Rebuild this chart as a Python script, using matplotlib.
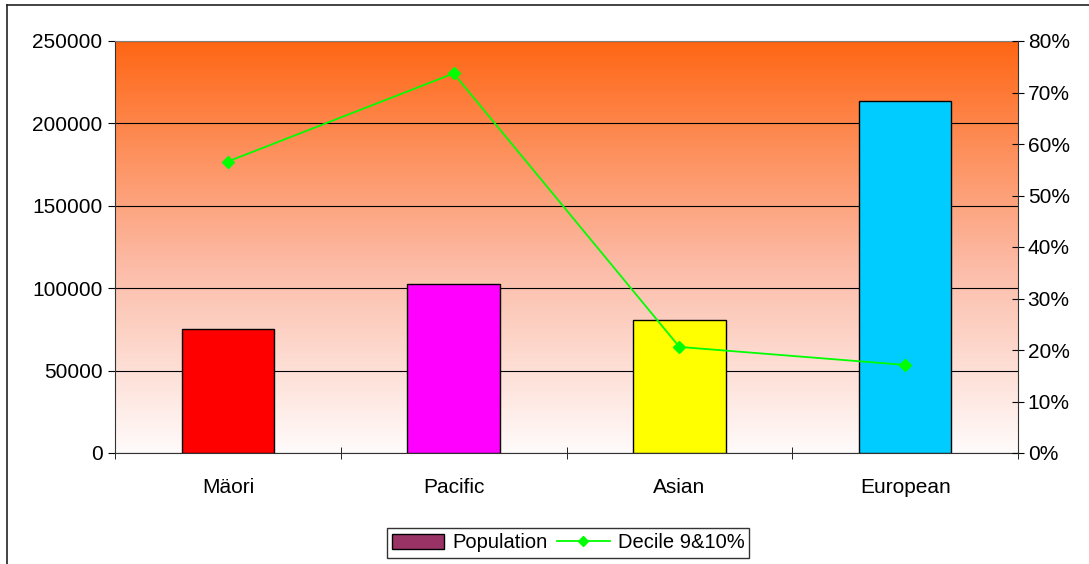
import numpy as np
import matplotlib.pyplot as plt
from matplotlib.lines import Line2D
from matplotlib.patches import Patch
from matplotlib.colors import LinearSegmentedColormap
from matplotlib.ticker import PercentFormatter

plt.rcParams['font.family'] = ['Liberation Sans', 'DejaVu Sans']
plt.rcParams['font.size'] = 15

groups = ['Mäori', 'Pacific', 'Asian', 'European']
population = [75400, 102700, 80700, 213600]
decile_9_10 = [56.6, 73.7, 20.6, 17.1]
bar_colors = ['#FF0000', '#FF00FF', '#FFFF00', '#00CCFF']

fig = plt.figure(figsize=(10.89, 5.64), dpi=100)
ax = fig.add_axes([115/1089, 1-453/564, 903/1089, 412/564])

# gradient background (orange top -> near white bottom)
grad = LinearSegmentedColormap.from_list('bg', [(0, '#FFFBFB'), (0.45, '#FCBCA8'), (1, '#FF6614')])
ax.imshow(np.linspace(0, 1, 256).reshape(-1, 1), cmap=grad, aspect='auto',
          extent=[-0.5, 3.5, 0, 250000], origin='lower', zorder=0)

x = np.arange(len(groups))
ax.bar(x, population, width=0.41, color=bar_colors, edgecolor='black', linewidth=1, zorder=3)
ax.set_xlim(-0.5, 3.5)
ax.set_ylim(0, 250000)
ax.set_yticks(range(0, 250001, 50000))
ax.yaxis.grid(True, color='black', linewidth=0.8, zorder=1)
ax.set_axisbelow(True)
ax.set_xticks(x)
ax.set_xticklabels(groups)
ax.tick_params(axis='x', length=0, pad=18)
ax.set_xticks(np.arange(-0.5, 4, 1), minor=True)
ax.tick_params(axis='x', which='minor', direction='inout', length=8)
ax.tick_params(axis='y', direction='out', length=5, pad=4)
ax.spines['top'].set_color('#808080')
ax.spines['right'].set_visible(False)
for s in ['left', 'bottom']:
    ax.spines[s].set_color('#333333')

ax2 = ax.twinx()
ax2.plot(x, decile_9_10, color='#00FF00', marker='D', markersize=6, linewidth=1.3, zorder=5)
ax2.set_ylim(0, 80)
ax2.set_yticks(range(0, 81, 10))
ax2.yaxis.set_major_formatter(PercentFormatter(decimals=0))
ax2.tick_params(axis='y', direction='inout', length=8, pad=3)
ax2.spines['right'].set_color('#333333')
for s in ['top', 'left', 'bottom']:
    ax2.spines[s].set_visible(False)

handles = [Patch(facecolor='#993366', edgecolor='black'),
           Line2D([], [], color='#00FF00', marker='D', markersize=5, linewidth=1.3)]
fig.legend(handles, ['Population', 'Decile 9&10%'], loc='center', bbox_to_anchor=(568/1089, 1-543/564),
           ncol=2, frameon=True, fancybox=False, edgecolor='black', fontsize=14.5,
           handlelength=2.6, columnspacing=0.5, handletextpad=0.4, borderpad=0.25)

# outer chart border
fig.add_artist(Line2D([7/1089, 7/1089], [0, 1-5/564], color='#222222', linewidth=1.2, transform=fig.transFigure))
fig.add_artist(Line2D([7/1089, 1], [1-5/564, 1-5/564], color='#222222', linewidth=1.2, transform=fig.transFigure))

fig.savefig('out.png', dpi=100)
